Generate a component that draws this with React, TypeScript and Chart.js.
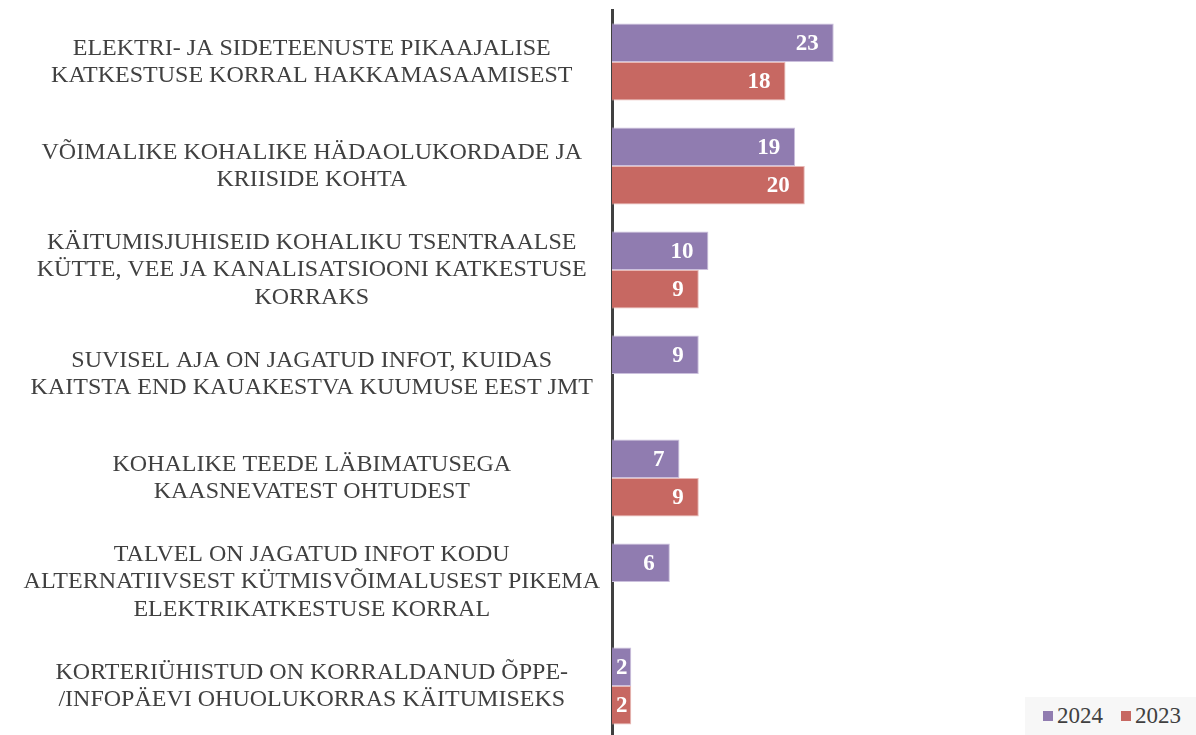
import React, { useEffect, useRef } from "react";
import { Chart, registerables } from "chart.js";

Chart.register(...registerables);

const categories: string[][] = [
  ["ELEKTRI- JA SIDETEENUSTE PIKAAJALISE", "KATKESTUSE KORRAL HAKKAMASAAMISEST"],
  ["VÕIMALIKE KOHALIKE HÄDAOLUKORDADE JA", "KRIISIDE KOHTA"],
  ["KÄITUMISJUHISEID KOHALIKU TSENTRAALSE", "KÜTTE, VEE JA KANALISATSIOONI KATKESTUSE", "KORRAKS"],
  ["SUVISEL AJA ON JAGATUD INFOT, KUIDAS", "KAITSTA END KAUAKESTVA KUUMUSE EEST JMT"],
  ["KOHALIKE TEEDE LÄBIMATUSEGA", "KAASNEVATEST OHTUDEST"],
  ["TALVEL ON JAGATUD INFOT KODU", "ALTERNATIIVSEST KÜTMISVÕIMALUSEST PIKEMA", "ELEKTRIKATKESTUSE KORRAL"],
  ["KORTERIÜHISTUD ON KORRALDANUD ÕPPE-", "/INFOPÄEVI OHUOLUKORRAS KÄITUMISEKS"],
];
const values2024: (number | null)[] = [23, 19, 10, 9, 7, 6, 2];
const values2023: (number | null)[] = [18, 20, 9, null, 9, null, 2];
const seriesNames = ["2024", "2023"];

const PURPLE = "#907cb0";
const RED = "#c76862";
const TEXT = "#404040";
const FONT = "'Liberation Serif', 'Times New Roman', serif";

const labelPlugin = {
  id: "valueLabels",
  afterDatasetsDraw(chart: any) {
    const ctx = chart.ctx;
    ctx.save();
    ctx.font = `bold 23px ${FONT}`;
    ctx.fillStyle = "#ffffff";
    ctx.textBaseline = "middle";
    ctx.textAlign = "right";
    chart.data.datasets.forEach((ds: any, di: number) => {
      const meta = chart.getDatasetMeta(di);
      meta.data.forEach((bar: any, i: number) => {
        const v = ds.data[i];
        if (v == null) return;
        const txt = String(v);
        const w = ctx.measureText(txt).width;
        const right = Math.max(bar.x - 15, bar.base + w + 4);
        ctx.fillText(txt, right, bar.y + 1);
      });
    });
    ctx.restore();
  },
};

export default function App() {
  const ref = useRef<HTMLCanvasElement>(null);
  useEffect(() => {
    document.body.style.margin = "0";
    const chart = new Chart(ref.current!, {
      type: "bar",
      data: {
        labels: categories,
        datasets: [
          {
            label: seriesNames[0],
            data: values2024,
            backgroundColor: PURPLE,
            borderColor: "#cbc0dd",
            borderWidth: 1,
          },
          {
            label: seriesNames[1],
            data: values2023,
            backgroundColor: RED,
            borderColor: "#e8b8b5",
            borderWidth: 1,
          },
        ],
      },
      options: {
        indexAxis: "y",
        animation: false,
        responsive: false,
        maintainAspectRatio: false,
        categoryPercentage: 0.74,
        barPercentage: 1,
        layout: { padding: { top: 10, bottom: 2, right: 343, left: 0 } },
        plugins: {
          legend: { display: false },
          tooltip: { enabled: false },
        },
        scales: {
          x: {
            display: false,
            min: 0,
            max: 25,
            grid: { display: false },
          },
          y: {
            grid: { display: false, drawTicks: false },
            border: { display: true, color: TEXT, width: 3 },
            afterFit(scale: any) {
              scale.width = 612;
              scale.paddingTop = 0;
              scale.paddingBottom = 0;
            },
            ticks: {
              crossAlign: "center",
              color: TEXT,
              padding: 12,
              font: { family: FONT, size: 24, lineHeight: "27.5px" as any },
            },
          },
        },
      },
      plugins: [labelPlugin],
    } as any);
    return () => chart.destroy();
  }, []);

  return (
    <div style={{ position: "fixed", left: 0, top: 0, width: 1196, height: 735, overflow: "hidden", background: "#fff" }}>
      <canvas ref={ref} width={1196} height={740} style={{ display: "block" }} />
      <div
        style={{
          position: "absolute",
          left: 1025,
          top: 697,
          width: 171,
          height: 38,
          background: "#f7f7f7",
          display: "flex",
          alignItems: "center",
          fontFamily: FONT,
          fontSize: 23,
          color: TEXT,
        }}
      >
        <span style={{ display: "inline-block", width: 10, height: 10, background: PURPLE, marginLeft: 18, marginRight: 4 }} />
        <span>{seriesNames[0]}</span>
        <span style={{ display: "inline-block", width: 10, height: 10, background: RED, marginLeft: 18, marginRight: 4 }} />
        <span>{seriesNames[1]}</span>
      </div>
    </div>
  );
}
